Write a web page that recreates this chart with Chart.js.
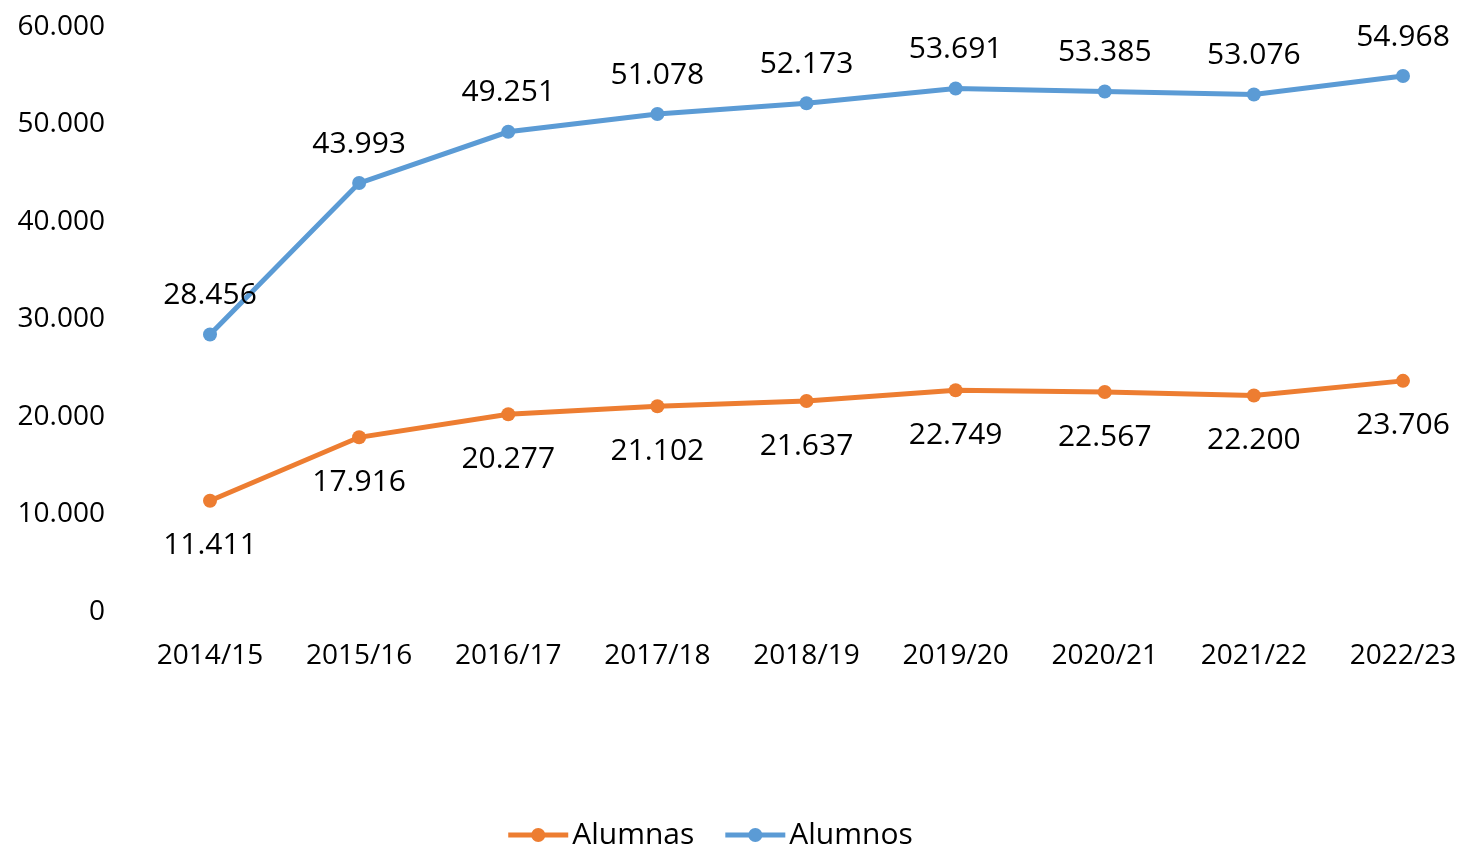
<!DOCTYPE html>
<html>
<head>
<meta charset="utf-8">
<script src="https://cdn.jsdelivr.net/npm/chart.js@4.4.1/dist/chart.umd.min.js"></script>
<style>
  html, body { margin: 0; padding: 0; background: #ffffff; }
  #wrap { width: 1461px; height: 849px; position: relative; }
</style>
</head>
<body>
<div id="wrap"><canvas id="c" width="1461" height="849"></canvas></div>
<script>
const categories = ["2014/15", "2015/16", "2016/17", "2017/18", "2018/19", "2019/20", "2020/21", "2021/22", "2022/23"];
const alumnas = [11411, 17916, 20277, 21102, 21637, 22749, 22567, 22200, 23706];
const alumnos = [28456, 43993, 49251, 51078, 52173, 53691, 53385, 53076, 54968];
const seriesNames = ["Alumnas", "Alumnos"];
const yTicks = [0, 10000, 20000, 30000, 40000, 50000, 60000];

const FONT = "'Open Sans', 'Liberation Sans', sans-serif";
const ORANGE = "#ED7D31";
const BLUE = "#5B9BD5";

function fmt(v) {
  const s = Math.round(v).toString();
  return s.replace(/\B(?=(\d{3})+(?!\d))/g, ".");
}

const dataLabels = {
  id: 'dataLabels',
  afterDatasetsDraw(chart) {
    const ctx = chart.ctx;
    ctx.save();
    ctx.font = "30px " + FONT;
    ctx.fillStyle = "#000";
    ctx.textAlign = "center";
    ctx.textBaseline = "middle";
    chart.data.datasets.forEach((ds, i) => {
      const meta = chart.getDatasetMeta(i);
      const above = ds.label === "Alumnos";
      meta.data.forEach((pt, j) => {
        const y = above ? pt.y - 39 : pt.y + 45;
        ctx.fillText(fmt(ds.data[j]), pt.x, y);
      });
    });
    ctx.restore();
  }
};

const customLegend = {
  id: 'customLegend',
  afterDraw(chart) {
    const ctx = chart.ctx;
    ctx.save();
    ctx.font = "30px " + FONT;
    ctx.textBaseline = "middle";
    ctx.textAlign = "left";
    const y = 835;
    const items = chart.data.datasets.map(ds => ({ label: ds.label, color: ds.borderColor }));
    const lineLen = 60, gap = 4, between = 31;
    let total = 0;
    items.forEach((it, k) => {
      total += lineLen + gap + ctx.measureText(it.label).width + (k < items.length - 1 ? between : 0);
    });
    let x = (chart.width - total) / 2 - 20;
    items.forEach(it => {
      ctx.strokeStyle = it.color;
      ctx.lineWidth = 5;
      ctx.beginPath();
      ctx.moveTo(x, y);
      ctx.lineTo(x + lineLen, y);
      ctx.stroke();
      ctx.fillStyle = it.color;
      ctx.beginPath();
      ctx.arc(x + lineLen / 2, y, 7, 0, Math.PI * 2);
      ctx.fill();
      ctx.fillStyle = "#000";
      ctx.fillText(it.label, x + lineLen + gap, y);
      x += lineLen + gap + ctx.measureText(it.label).width + between;
    });
    ctx.restore();
  }
};

function resetPad(axis) {
  axis.paddingTop = 0; axis.paddingBottom = 0; axis.paddingLeft = 0; axis.paddingRight = 0;
}

new Chart(document.getElementById('c'), {
  type: 'line',
  data: {
    labels: categories,
    datasets: [
      { label: seriesNames[0], data: alumnas, borderColor: ORANGE, backgroundColor: ORANGE,
        borderWidth: 5, pointRadius: 7, pointHoverRadius: 7, pointBackgroundColor: ORANGE, pointBorderWidth: 0, tension: 0 },
      { label: seriesNames[1], data: alumnos, borderColor: BLUE, backgroundColor: BLUE,
        borderWidth: 5, pointRadius: 7, pointHoverRadius: 7, pointBackgroundColor: BLUE, pointBorderWidth: 0, tension: 0 }
    ]
  },
  options: {
    responsive: false,
    animation: false,
    layout: { padding: { left: 0, right: 58, top: 27, bottom: 178 } },
    plugins: { legend: { display: false }, tooltip: { enabled: false } },
    scales: {
      x: {
        offset: false,
        afterFit(axis) { resetPad(axis); axis.height = 59; },
        grid: { display: false },
        border: { display: false },
        ticks: { color: "#000", font: { family: FONT, size: 28 }, padding: 19, maxRotation: 0, autoSkip: false }
      },
      y: {
        min: 0, max: 60000,
        afterFit(axis) { resetPad(axis); axis.width = 210; },
        afterBuildTicks(axis) { axis.ticks = yTicks.map(v => ({ value: v })); },
        grid: { display: false },
        border: { display: false },
        ticks: { color: "#000", font: { family: FONT, size: 28 }, padding: 97, callback: v => fmt(v) }
      }
    }
  },
  plugins: [dataLabels, customLegend]
});
</script>
</body>
</html>
